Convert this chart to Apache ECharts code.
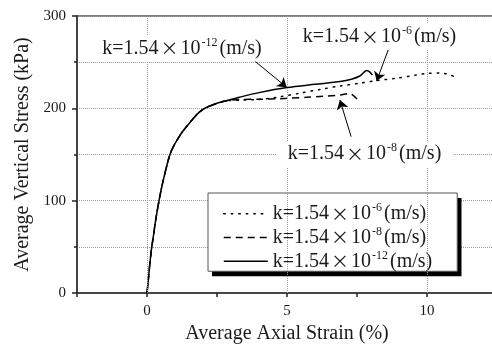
<!DOCTYPE html>
<html>
<head>
<meta charset="utf-8">
<script src="https://cdn.jsdelivr.net/npm/echarts@6/dist/echarts.min.js"></script>
<style>html,body{margin:0;background:#fff}#c{width:492px;height:349px}</style>
</head>
<body>
<div id="c"></div>
<script>
const SERIF = '"Liberation Serif", "DejaVu Serif", serif';
const INK = '#1a1a1a';

// strain (%), stress (kPa) — shared loading branch, then each tail
const base = [[0,0],[0.04,12],[0.08,25],[0.12,37],[0.17,50],[0.23,62],[0.29,75],[0.36,88],[0.43,100],[0.5,111],[0.58,122],[0.7,137],[0.82,150],[0.95,159],[1.1,167],[1.3,176],[1.6,187],[1.8,194],[2.0,199],[2.2,202],[2.5,205.5],[2.8,208]];
const tail6 = [[3.3,208.8],[4.0,209.6],[4.75,212.5],[5.45,216.3],[6.2,220.6],[6.9,224.2],[7.6,227.2],[8.2,230],[8.9,232.6],[9.6,236],[10.0,237.8],[10.5,238.3],[10.8,236.5],[11.0,234]];
const tail8 = [[3.3,209.5],[4.0,209.8],[4.75,210.5],[5.1,211],[5.7,212],[6.3,213],[6.9,214.5],[7.25,216],[7.4,213],[7.5,210]];
const tail12 = [[3.3,212],[4.0,217],[5.0,222.5],[6.0,226],[6.9,229],[7.3,231.5],[7.6,235],[7.85,241],[7.95,239.5],[8.05,236]];

const seriesNames = ['k6', 'k8', 'k12'];
const exps = ['-6', '-8', '-12'];
const dashes = [[1.5, 6], [7, 5], null];

// annotations: label centres and arrow ends, in data units
const noteExp = ['-12', '-6', '-8'];
const notePos = [[1.25, 264.8], [8.3, 277.2], [7.77, 150.6]];
const arrowFrom = [[3.8, 252.4], [8.68, 268.6], [7.29, 169.3]];
const arrowTo = [[4.99, 222.8], [8.2, 229.5], [6.89, 209]];

const gridX = [0, 5, 10];

const kLabel = (e) => `{t|k=1.54}{x|×}{t|10}{s|${e}}{t|(m/s)}`;
const makeRich = (lh, color) => ({
  t: { fontFamily: SERIF, fontSize: 20, color, lineHeight: lh },
  x: { fontFamily: '"Noto Sans CJK SC"', fontSize: 18, color, lineHeight: lh, padding: [0, 2] },
  s: { fontFamily: SERIF, fontSize: 12, color, lineHeight: 10, verticalAlign: 'top', padding: [0, 2, 0, 1] },
});

const chart = echarts.init(document.getElementById('c'), null, { renderer: 'canvas' });

const lines = seriesNames.map((name, i) => ({
  name,
  type: 'line',
  data: base.concat([tail6, tail8, tail12][i]),
  symbol: 'none',
  smooth: 0.3,
  z: 3,
  itemStyle: { color: '#000' },
  lineStyle: { color: '#000', width: 1.5, type: dashes[i] || 'solid', cap: i === 0 ? 'round' : 'butt' },
}));

// notes + arrows ride on the solid curve
lines[2].markPoint = {
  silent: true,
  symbol: 'circle',
  symbolSize: 0,
  label: { show: true, position: 'inside', backgroundColor: '#fff', padding: [1, 12], rich: makeRich(24, INK) },
  data: notePos.map((c, i) => ({ coord: c, label: { formatter: kLabel(noteExp[i]) } })),
};
lines[2].markLine = {
  silent: true,
  symbol: ['none', 'arrow'],
  symbolSize: 9,
  label: { show: false },
  lineStyle: { color: '#000', width: 1, type: 'solid' },
  data: arrowFrom.map((f, i) => [{ coord: f }, { coord: arrowTo[i] }]),
};

const gridLines = {
  name: 'grid',
  type: 'line',
  data: [],
  z: 1,
  markLine: {
    silent: true,
    symbol: 'none',
    label: { show: false },
    lineStyle: { color: '#9a9a9a', width: 1, type: 'dotted' },
    data: gridX.map((v) => ({ xAxis: v })),
  },
};

// two stacked legends: a black offset copy acts as the drop shadow
const legendBase = {
  data: seriesNames,
  orient: 'vertical',
  padding: [9, 25, 0, 15],
  itemGap: 2,
  itemWidth: 44,
  itemHeight: 14,
  borderWidth: 0,
  selectedMode: false,
  formatter: (n) => kLabel(exps[seriesNames.indexOf(n)]),
};
const legendShadow = Object.assign({}, legendBase, {
  left: 212, top: 198, z: 4,
  backgroundColor: '#000',
  itemStyle: { color: 'transparent', borderColor: 'transparent', borderWidth: 0 },
  lineStyle: { color: 'transparent' },
  textStyle: { rich: makeRich(23.5, 'transparent') },
});
const legendMain = Object.assign({}, legendBase, {
  left: 208, top: 193, z: 5,
  backgroundColor: '#fff',
  borderColor: '#555',
  borderWidth: 1,
  itemStyle: { color: 'transparent', borderColor: 'transparent', borderWidth: 0 },
  lineStyle: { color: '#000', width: 1.5 },
  textStyle: { rich: makeRich(23.5, INK) },
});

chart.setOption({
  animation: false,
  backgroundColor: '#fff',
  grid: {
    left: 77, top: 16, width: 420, height: 277,
    show: true, borderColor: '#000', borderWidth: 1, backgroundColor: 'transparent',
    containLabel: false, outerBoundsMode: 'none',
  },
  legend: [legendShadow, legendMain],
  xAxis: {
    type: 'value',
    min: -2.5,
    max: 12.5,
    interval: 2.5,
    name: 'Average Axial Strain (%)',
    nameLocation: 'middle',
    nameGap: 30,
    nameTextStyle: { fontFamily: SERIF, fontSize: 20, color: INK },
    axisLine: { show: true, onZero: false, lineStyle: { color: '#333', width: 1.5 } },
    axisTick: { show: true, length: 4, lineStyle: { color: '#222', width: 1.5 } },
    axisLabel: {
      margin: 11, fontFamily: SERIF, fontSize: 15, color: INK,
      formatter: (v) => (v % 5 === 0 ? String(v) : ''),
    },
    splitLine: { show: false },
  },
  yAxis: {
    type: 'value',
    min: 0,
    max: 300,
    interval: 100,
    name: 'Average Vertical Stress (kPa)',
    nameLocation: 'middle',
    nameGap: 39,
    nameTextStyle: { fontFamily: SERIF, fontSize: 20, color: INK },
    axisLine: { show: true, onZero: false, lineStyle: { color: '#444', width: 2 } },
    axisTick: { show: true, length: 5, lineStyle: { color: '#222', width: 1.5 } },
    minorTick: { show: true, splitNumber: 2, length: 3, lineStyle: { color: '#222', width: 1.5 } },
    axisLabel: { margin: 11, fontFamily: SERIF, fontSize: 15, color: INK },
    splitLine: { show: true, lineStyle: { color: '#9a9a9a', width: 1, type: 'dotted' } },
    minorSplitLine: { show: true, lineStyle: { color: '#9a9a9a', width: 1, type: 'dotted' } },
  },
  series: [gridLines, ...lines],
});
</script>
</body>
</html>
